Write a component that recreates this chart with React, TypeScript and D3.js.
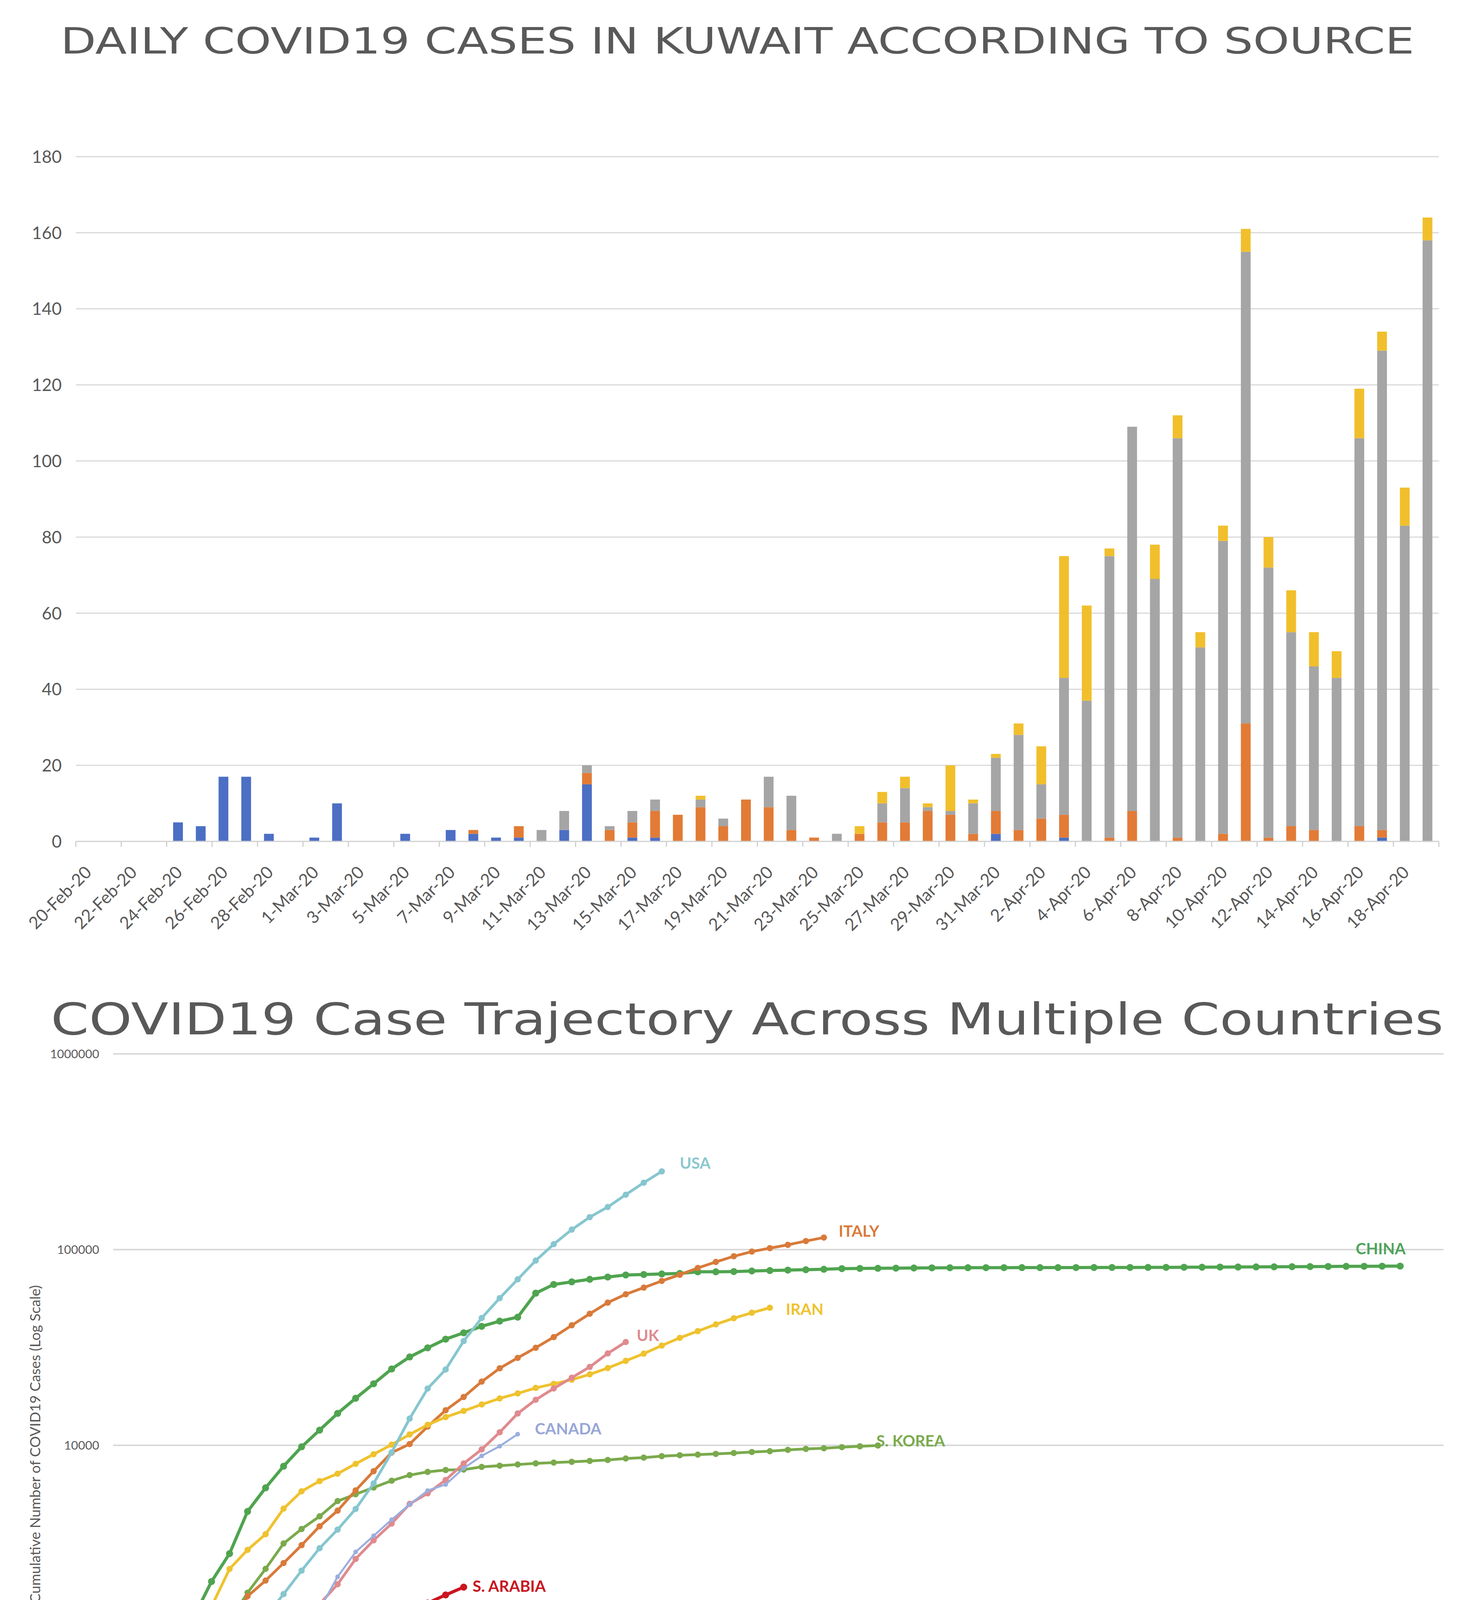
import React from "react";
import * as d3 from "d3";

// ---------- Top chart data: daily Kuwait cases by source ----------
const dates = [
  "20-Feb-20","21-Feb-20","22-Feb-20","23-Feb-20","24-Feb-20","25-Feb-20","26-Feb-20","27-Feb-20","28-Feb-20","29-Feb-20",
  "1-Mar-20","2-Mar-20","3-Mar-20","4-Mar-20","5-Mar-20","6-Mar-20","7-Mar-20","8-Mar-20","9-Mar-20","10-Mar-20",
  "11-Mar-20","12-Mar-20","13-Mar-20","14-Mar-20","15-Mar-20","16-Mar-20","17-Mar-20","18-Mar-20","19-Mar-20","20-Mar-20",
  "21-Mar-20","22-Mar-20","23-Mar-20","24-Mar-20","25-Mar-20","26-Mar-20","27-Mar-20","28-Mar-20","29-Mar-20","30-Mar-20",
  "31-Mar-20","1-Apr-20","2-Apr-20","3-Apr-20","4-Apr-20","5-Apr-20","6-Apr-20","7-Apr-20","8-Apr-20","9-Apr-20",
  "10-Apr-20","11-Apr-20","12-Apr-20","13-Apr-20","14-Apr-20","15-Apr-20","16-Apr-20","17-Apr-20","18-Apr-20","19-Apr-20",
];
const blueCases = [
  0,0,0,0,5,4,17,17,2,0,
  1,10,0,0,2,0,3,2,1,1,
  0,3,15,0,1,1,0,0,0,0,
  0,0,0,0,0,0,0,0,0,0,
  2,0,0,1,0,0,0,0,0,0,
  0,0,0,0,0,0,0,1,0,0,
];
const orangeCases = [
  0,0,0,0,0,0,0,0,0,0,
  0,0,0,0,0,0,0,1,0,3,
  0,0,3,3,4,7,7,9,4,11,
  9,3,1,0,2,5,5,8,7,2,
  6,3,6,6,0,1,8,0,1,0,
  2,31,1,4,3,0,4,2,0,0,
];
const grayCases = [
  0,0,0,0,0,0,0,0,0,0,
  0,0,0,0,0,0,0,0,0,0,
  3,5,2,1,3,3,0,2,2,0,
  8,9,0,2,0,5,9,1,1,8,
  14,25,9,36,37,74,101,69,105,51,
  77,124,71,51,43,43,102,126,83,158,
];
const yellowCases = [
  0,0,0,0,0,0,0,0,0,0,
  0,0,0,0,0,0,0,0,0,0,
  0,0,0,0,0,0,0,1,0,0,
  0,0,0,0,2,3,3,1,12,1,
  1,3,10,32,25,2,0,9,6,4,
  4,6,8,11,9,7,13,5,10,6,
];
const topYTicks = [0, 20, 40, 60, 80, 100, 120, 140, 160, 180];

// ---------- Bottom chart data: cumulative cases since 100th case ----------
const chinaCases = [282,314,581,846,1320,2014,2798,4593,6065,7818,9826,11953,14557,17391,20630,24554,28276,31481,34886,37558,40554,43103,45171,
  59895,66358,68413,70513,72434,74211,74619,75077,75550,77001,77022,77241,77754,78166,78600,78928,79356,79932,80136,80261,80386,80537,80690,80770,80823,80860,80887,80921,80932,80945,80977,81003,81033,81058,81102,81156,81250,81305,81435,81498,81591,81661,81782,81897,81999,82122,82198,82279,82361];
const koreaCases = [104,204,433,602,833,977,1261,1766,2337,3150,3736,4335,5186,5621,6088,6593,7041,7314,7478,7513,7755,7869,7979,8086,8162,8236,8320,8413,8565,8652,8799,8897,8961,9037,9137,9241,9332,9478,9583,9661,9786,9887,9976];
const italyCases = [155,229,322,453,655,888,1128,1694,2036,2502,3089,3858,4636,5883,7375,9172,10149,12462,15113,17660,21157,24747,27980,31506,35713,41035,47021,53578,59138,63927,69176,74386,80589,86498,92472,97689,101739,105792,110574,115242];
const iranCases = [139,245,388,593,978,1501,2336,2922,3513,4747,5823,6566,7161,8042,9000,10075,11364,12729,13938,14991,16169,17361,18407,19644,20610,21638,23049,24811,27017,29406,32332,35408,38309,41495,44605,47593,50468];
const usaCases = [125,158,221,319,441,549,715,1010,1330,1737,2290,2980,3710,4730,6390,9200,13700,19500,24400,34100,44700,56500,70500,87900,106600,126500,146500,165000,190800,219800,251000];
const ukCases = [116,164,207,273,321,383,456,590,798,1140,1372,1543,1950,2626,3269,3983,5018,5683,6650,8077,9529,11658,14543,17089,19522,22141,25150,29474,33718];
const canadaCases = [108,138,176,220,300,428,607,741,870,1131,1370,1452,2130,2850,3450,4170,4990,5870,6310,7640,8830,9900,11400];
const singaporeCases = [102,106,108,110,112,117,130,138,150,160,166,178,187,200,212,226,243,266,313,345,385,432,455,509,558,631,683,732,802,844,879,926,1000,1049];
const saudiCases = [103,118,133,171,238,274,344,392,511,562,767,900,1012,1104,1203,1299,1453,1563,1720,1885];
const kuwaitCases = [104,112,123,130,142,148,159,176,188,189,191,195,208,225,235,255,266,289,317,342,417];
const logTicks = [100, 1000, 10000, 100000, 1000000];
const dayLabels = d3.range(1, 73);

type Series = {
  name: string; values: number[]; color: string; labelColor: string;
  width: number; r: number; dotted?: boolean;
  dx: number; dy: number; anchor: "start" | "middle" | "end";
};

const series: Series[] = [
  { name: "CHINA", values: chinaCases, color: "#4FA44F", labelColor: "#4FA45C", width: 8, r: 9, dx: 14, dy: -45, anchor: "end" },
  { name: "S. KOREA", values: koreaCases, color: "#7AAA4C", labelColor: "#7AAA4C", width: 7, r: 8, dx: -4, dy: -12, anchor: "start" },
  { name: "ITALY", values: italyCases, color: "#D97A3A", labelColor: "#D97A3A", width: 7, r: 8, dx: 38, dy: -17, anchor: "start" },
  { name: "IRAN", values: iranCases, color: "#EFC22E", labelColor: "#EFC22E", width: 7, r: 8, dx: 41, dy: 4, anchor: "start" },
  { name: "USA", values: usaCases, color: "#86C6CF", labelColor: "#8CC6CF", width: 7, r: 8, dx: 46, dy: -21, anchor: "start" },
  { name: "UK", values: ukCases, color: "#E08A8E", labelColor: "#DE8A90", width: 7, r: 8, dx: 28, dy: -17, anchor: "start" },
  { name: "CANADA", values: canadaCases, color: "#9AAEDF", labelColor: "#98A6D6", width: 5, r: 6, dx: 44, dy: -14, anchor: "start" },
  { name: "SINGAPORE", values: singaporeCases, color: "#EEC43A", labelColor: "#EEC43A", width: 3, r: 10, dotted: true, dx: 39, dy: -23, anchor: "start" },
  { name: "S. ARABIA", values: saudiCases, color: "#CC1420", labelColor: "#C8141E", width: 8, r: 9, dx: 23, dy: -2, anchor: "start" },
  { name: "KUWAIT", values: kuwaitCases, color: "#6A2EA0", labelColor: "#6A2EA0", width: 8, r: 9, dx: -20, dy: -57, anchor: "middle" },
];

const TEXT = "#595959";
const GRID = "#d9d9d9";
const FONT = "Lato, 'Open Sans', sans-serif";

export default function App() {
  const W = 3773, H = 4900;

  // ----- top chart scales -----
  const x = d3.scaleBand<string>().domain(dates).range([194, 3683]).paddingInner(0.57).paddingOuter(0.285);
  const y = d3.scaleLinear().domain([0, 180]).range([2154, 401]);
  const step = x.step();
  const rows = dates.map((d, i) => ({ date: d, blue: blueCases[i], orange: orangeCases[i], gray: grayCases[i], yellow: yellowCases[i] }));
  const keys = ["blue", "orange", "gray", "yellow"];
  const barColors: Record<string, string> = { blue: "#4C6FC4", orange: "#E27B36", gray: "#A5A5A5", yellow: "#F1BF2C" };
  const stacked = d3.stack<any>().keys(keys)(rows);

  // ----- bottom chart scales -----
  const bx = d3.scaleLinear().domain([1, 72]).range([311, 3584]);
  const by = d3.scaleLog().domain([100, 1000000]).range([4702, 2698]);
  const line = d3.line<number>().x((_, i) => bx(i + 1)).y((v) => by(v));

  return (
    <svg width={W} height={H} viewBox={`0 0 ${W} ${H}`} style={{ position: "absolute", left: 0, top: 0, background: "#fff" }}>
      <rect x={0} y={0} width={W} height={H} fill="#fff" />

      {/* ================= TOP CHART ================= */}
      <text x={155} y={137} fontFamily="'DejaVu Sans', sans-serif" fontSize={92} fill={TEXT}
        textLength={3465} lengthAdjust="spacingAndGlyphs">DAILY COVID19 CASES IN KUWAIT ACCORDING TO SOURCE</text>

      {topYTicks.map((t) => (
        <g key={`tg${t}`}>
          {t > 0 && <line x1={194} x2={3683} y1={y(t)} y2={y(t)} stroke={GRID} strokeWidth={3} />}
          <text x={158} y={y(t)} dy="0.36em" textAnchor="end" fontFamily={FONT} fontSize={44} fill={TEXT}>{t}</text>
        </g>
      ))}

      {stacked.map((layer) => (
        <g key={layer.key} fill={barColors[layer.key]}>
          {layer.map((seg, i) => {
            const h = y(seg[0]) - y(seg[1]);
            if (h <= 0) return null;
            return <rect key={i} x={x(dates[i])} y={y(seg[1])} width={x.bandwidth()} height={h} />;
          })}
        </g>
      ))}

      <line x1={194} x2={3683} y1={y(0)} y2={y(0)} stroke="#d0d0d0" strokeWidth={3} />
      {dates.map((d, i) => i % 2 === 0 ? (
        <line key={`tk${i}`} x1={194 + i * step} x2={194 + i * step} y1={y(0)} y2={y(0) + 14} stroke="#d0d0d0" strokeWidth={3} />
      ) : null)}
      <line x1={3683} x2={3683} y1={y(0)} y2={y(0) + 14} stroke="#d0d0d0" strokeWidth={3} />
      {dates.map((d, i) => i % 2 === 0 ? (
        <text key={`xl${i}`} transform={`translate(${(x(d) as number) + x.bandwidth() / 2 + 14},${y(0) + 82}) rotate(-45)`}
          textAnchor="end" fontFamily={FONT} fontSize={44} fill={TEXT}>{d}</text>
      ) : null)}

      {/* ================= BOTTOM CHART ================= */}
      <text x={130} y={2648} fontFamily="'DejaVu Sans', sans-serif" fontSize={112} fill={TEXT}
        textLength={3565} lengthAdjust="spacingAndGlyphs">COVID19 Case Trajectory Across Multiple Countries</text>

      {logTicks.map((t) => (
        <g key={`lg${t}`}>
          <line x1={290} x2={3695} y1={by(t)} y2={by(t)} stroke={GRID} strokeWidth={4} />
          <text x={254} y={by(t)} dy="0.36em" textAnchor="end" fontFamily={FONT} fontSize={31} fill={TEXT}>{t}</text>
        </g>
      ))}

      {dayLabels.map((d) => (
        <text key={`dl${d}`} x={bx(d)} y={4760} textAnchor="middle" fontFamily={FONT} fontSize={33} fill={TEXT}>{d}</text>
      ))}
      <text x={1947} y={4803} textAnchor="middle" fontFamily={FONT} fontSize={33} fill={TEXT}>Days Since 100th Case</text>
      <text transform="translate(103,3697) rotate(-90)" textAnchor="middle" fontFamily={FONT} fontSize={36} fill={TEXT}
        textLength={814} lengthAdjust="spacingAndGlyphs">Cumulative Number of COVID19 Cases (Log Scale)</text>

      {series.map((s) => (
        <g key={s.name}>
          <path d={line(s.values) || ""} fill="none" stroke={s.dotted ? "#F4DD8A" : s.color}
            strokeWidth={s.width} strokeDasharray={s.dotted ? "5 6" : undefined} strokeLinejoin="round" strokeLinecap="round" />
          {s.values.map((v, i) => (
            <circle key={i} cx={bx(i + 1)} cy={by(v)} r={s.r} fill={s.color} />
          ))}
        </g>
      ))}

      {series.map((s) => {
        const n = s.values.length;
        return (
          <text key={`lab${s.name}`} x={bx(n) + s.dx} y={by(s.values[n - 1]) + s.dy} dy="0.36em" textAnchor={s.anchor}
            fontFamily={FONT} fontWeight={700} fontSize={40} fill={s.labelColor}>{s.name}</text>
        );
      })}
    </svg>
  );
}
